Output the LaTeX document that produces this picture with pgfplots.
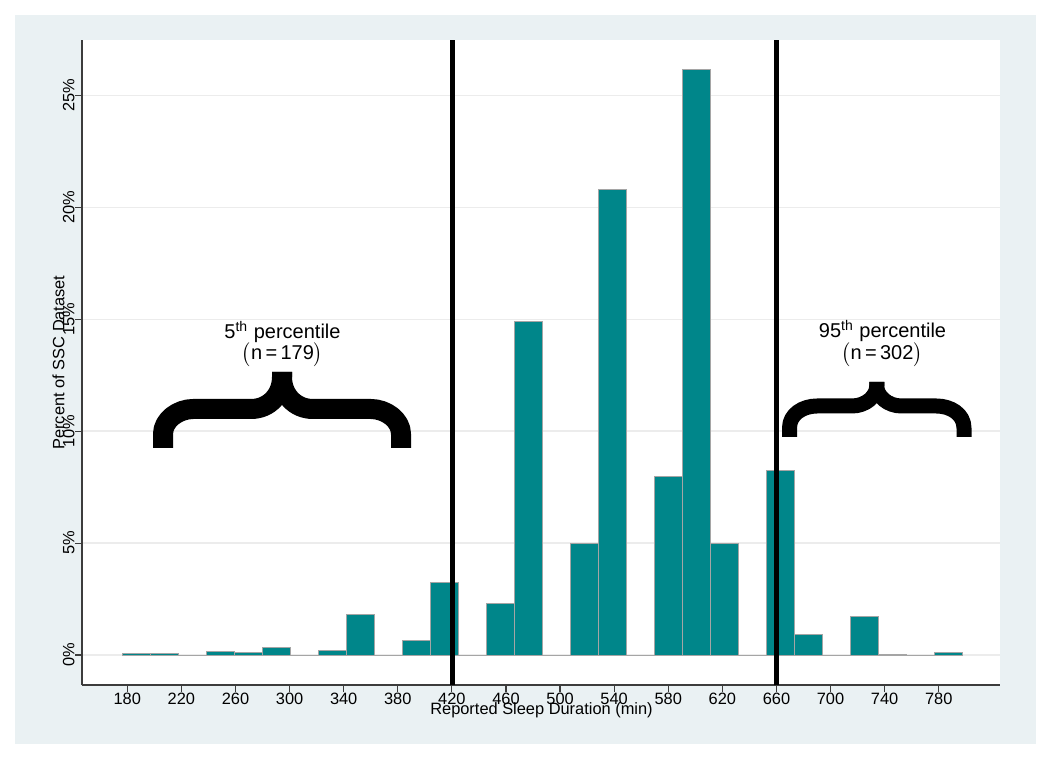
\documentclass[border=0pt]{standalone}
\usepackage{fontspec}
\setmainfont{Liberation Sans}
\usepackage{pgfplots}
\pgfplotsset{compat=1.18}
\definecolor{framebg}{RGB}{234,241,243}
\definecolor{barfill}{RGB}{0,134,138}
\definecolor{barline}{RGB}{165,165,165}
\definecolor{axisgray}{RGB}{60,60,60}
\definecolor{gridgray}{RGB}{236,236,236}
\begin{document}
\begin{tikzpicture}
\useasboundingbox (0,0) rectangle (525pt,380.5pt);
\fill[white] (0,0) rectangle (525pt,380.5pt);
\fill[framebg] (7.5pt,8.5pt) rectangle (518pt,373pt);
\begin{axis}[
  at={(41pt,38pt)}, anchor=south west,
  scale only axis, width=459pt, height=322.5pt,
  xmin=146.5, xmax=825.3, ymin=-1.34, ymax=27.48,
  axis lines*=left,
  axis line style={draw=axisgray, line width=0.8pt},
  axis background/.style={fill=white},
  xtick={180,220,...,780},
  ytick={0,5,...,25},
  /pgf/number format/assume math mode=true,
  /pgf/number format/1000 sep={},
  yticklabel={\pgfmathprintnumber{\tick}\%},
  tick align=outside,
  major tick length=3.5pt,
  tick style={draw=axisgray, line width=0.6pt},
  ymajorgrids, grid style={draw=gridgray, line width=0.8pt},
  tick label style={font=\fontsize{8.2}{9.8}\selectfont},
  xticklabel style={inner sep=0.3pt},
  yticklabel style={rotate=90, anchor=south, inner sep=0pt},
]
\addplot[ybar interval, fill=barfill, draw=barline, line width=0.5pt] table[row sep=\\] {
x y\\
176.8 0.05\\
197.48 0.05\\
218.16 0\\
238.84 0.16\\
259.52 0.09\\
280.2 0.34\\
300.88 0\\
321.56 0.22\\
342.24 1.82\\
362.92 0\\
383.6 0.67\\
404.28 3.22\\
424.96 0\\
445.64 2.30\\
466.32 14.89\\
487.0 0\\
507.68 4.98\\
528.36 20.78\\
549.04 0\\
569.72 7.97\\
590.4 26.14\\
611.08 4.98\\
631.76 0\\
652.44 8.24\\
673.12 0.92\\
693.8 0\\
714.48 1.72\\
735.16 0.04\\
755.84 0\\
776.52 0.11\\
797.2 0\\
};
\addplot[black, line width=2.5pt, line cap=butt] coordinates {(420.2,-1.34) (420.2,27.48)};
\addplot[black, line width=2.5pt, line cap=butt] coordinates {(660,-1.34) (660,27.48)};
\end{axis}
% axis titles
\node[font=\fontsize{8.2}{9.8}\selectfont, anchor=base] at (270.75pt,23.3pt) {Reported Sleep Duration (min)};
\node[font=\fontsize{8.2}{9.8}\selectfont, rotate=90, anchor=center] at (29.3pt,199.25pt) {Percent of SSC Dataset};
% annotations
\node[font=\fontsize{10}{12}\selectfont, anchor=base] at (141.25pt,211pt) {5\textsuperscript{th} percentile};
\node[font=\fontsize{10}{12}\selectfont, anchor=base] at (141.25pt,200.5pt) {$\bigl($n\,=\,179$\bigr)$};
\node[font=\fontsize{10}{12}\selectfont, anchor=base] at (441.25pt,211.5pt) {95\textsuperscript{th} percentile};
\node[font=\fontsize{10}{12}\selectfont, anchor=base] at (441pt,200.5pt) {$\bigl($n\,=\,302$\bigr)$};
% braces (pixel coordinates, y downward)
\begin{scope}[yshift=380.5pt, x=0.5pt, y=-0.5pt, line cap=butt, line join=round]
\draw[line width=10pt] (163,448) -- (163,434) .. controls (163,420) and (178,409) .. (193,409) -- (251,409) .. controls (269,409) and (282,395) .. (282,377) -- (282,372);
\draw[line width=10pt] (401,448) -- (401,434) .. controls (401,420) and (386,409) .. (371,409) -- (313,409) .. controls (295,409) and (282,395) .. (282,377) -- (282,372);
\draw[line width=7.5pt] (789.5,437) -- (789.5,428) .. controls (789.5,414) and (803,406) .. (817,406) -- (852,406) .. controls (866,406) and (876.75,396) .. (876.75,386) -- (876.75,382);
\draw[line width=7.5pt] (964,437) -- (964,428) .. controls (964,414) and (950.5,406) .. (936.5,406) -- (901.5,406) .. controls (887.5,406) and (876.75,396) .. (876.75,386) -- (876.75,382);
\end{scope}
\end{tikzpicture}
\end{document}
